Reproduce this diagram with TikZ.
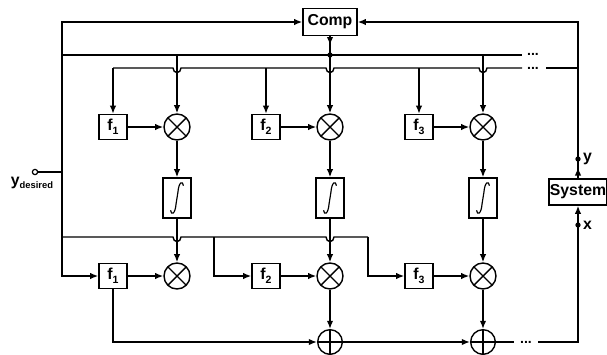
\documentclass[tikz,border=0pt]{standalone}
\usepackage{fontspec}
\setmainfont{Liberation Sans}
\usetikzlibrary{arrows.meta}

\tikzset{
    khoi/.style={draw, inner sep=0pt, minimum width=0.84cm, minimum height=0.75cm,
        font=\fontsize{13.5}{15}\selectfont\bfseries},
    nhan/.style={draw, circle, inner sep=0pt, minimum size=0.78cm,
        path picture={\draw (path picture bounding box.north west) -- (path picture bounding box.south east)
            (path picture bounding box.north east) -- (path picture bounding box.south west);}},
    cong/.style={draw, circle, inner sep=0pt, minimum size=0.74cm,
        path picture={\draw (path picture bounding box.north) -- (path picture bounding box.south)
            (path picture bounding box.east) -- (path picture bounding box.west);}},
    tichphan/.style={draw, inner sep=0pt, minimum width=0.84cm, minimum height=1.2cm,
        path picture={\draw[line width=1pt, shift={(path picture bounding box.center)}]
            (-5.5pt,-10.5pt) .. controls (-5pt,-15pt) and (-1.5pt,-14pt) .. (-0.8pt,-5pt)
            -- (0.8pt,5pt) .. controls (1.5pt,14pt) and (5pt,15pt) .. (5.5pt,10.5pt);}},
    cham/.style={circle, fill, inner sep=0pt, minimum size=4.5pt},
    nhanh/.style={font=\fontsize{13.5}{15}\selectfont\bfseries, inner sep=1pt},
    bacham/.style={font=\fontsize{12}{12}\selectfont\bfseries, inner sep=0pt,
        text height=1.5pt, text depth=0pt, anchor=base}
}

\begin{document}
\begin{tikzpicture}[>={Latex[length=7pt,width=5.5pt]}, x=0.03cm, y=-0.03cm, line width=1.2pt]
    \useasboundingbox (0,0) rectangle (607,354);
    % Khối so sánh và hệ thống
    \node[khoi, minimum width=1.62cm, minimum height=0.81cm] (comp) at (330,22) {Comp};
    \node[khoi, minimum width=1.74cm, minimum height=0.78cm] (sys) at (578,192) {System};

    % Ba nhánh
    \foreach \i/\x in {1/177,2/330,3/483} {
        \node[khoi] (ft\i) at ({\x-64},127) {f\raisebox{-0.45ex}{\small\i}};
        \node[nhan] (mt\i) at (\x,127) {};
        \node[tichphan] (tp\i) at (\x,198) {};
        \node[khoi] (fb\i) at ({\x-64},276) {f\raisebox{-0.45ex}{\small\i}};
        \node[nhan] (mb\i) at (\x,276) {};
        \draw[->] (ft\i) -- (mt\i);
        \draw[->] (mt\i) -- (tp\i);
        \draw[->] (tp\i) -- (mb\i);
        \draw[->] (fb\i) -- (mb\i);
        \draw[->] (ft\i |- 0,68) -- (ft\i);
        \draw[->] (\x,55) -- (mt\i);
    }

    % Bộ cộng
    \node[cong] (p1) at (330,342) {};
    \node[cong] (p2) at (483,342) {};
    \draw[->] (mb2) -- (p1);
    \draw[->] (mb3) -- (p2);
    \draw[->] (p1) -- (p2);
    \draw[->] (fb1) |- (p1);

    % Tín hiệu y_desired
    \node[circle, draw, inner sep=0pt, minimum size=4.5pt, line width=1pt] (yd) at (35,172) {};
    \node[anchor=base, nhanh] at (32,185) {y\raisebox{-0.4ex}{\footnotesize desired}};
    \draw (yd) -- (62,172);
    \draw[<->] (comp.west) -- (62,22) |- (fb1);

    % Các đường trên
    \draw (62,55) -- (522,55);
    \draw (113,68) -- (173,68) .. controls (173,74) and (181,74) .. (181,68)
        -- (326,68) .. controls (326,74) and (334,74) .. (334,68)
        -- (479,68) .. controls (479,74) and (487,74) .. (487,68) -- (522,68);
    \draw (546,68) -- (578,68);
    \node[bacham] at (533,55) {...};
    \node[bacham] at (533,69) {...};
    \draw[->] (comp.south) -- ++(0,9);
    \draw (comp.south) -- (330,55);
    \node[cham] at (330,55) {};
    \draw[<-] (comp.east) -| (sys.north);
    \draw[->] (sys.north) -- ++(0,-11);
    \node[cham] (ydot) at (578,159) {};
    \node[right, nhanh] at (ydot.east) {y};

    % Đường dưới
    \draw (62,237) -- (173,237) .. controls (173,243) and (181,243) .. (181,237)
        -- (326,237) .. controls (326,243) and (334,243) .. (334,237) -- (368,237);
    \draw[->] (214,237) |- (fb2);
    \draw[->] (368,237) |- (fb3);
    \draw (p2) -- (514,342);
    \node[bacham] at (526,343) {...};
    \draw[->] (538,342) -| (sys.south);
    \node[cham] (xdot) at (578,225) {};
    \node[right, nhanh] at (xdot.east) {x};
\end{tikzpicture}
\end{document}
